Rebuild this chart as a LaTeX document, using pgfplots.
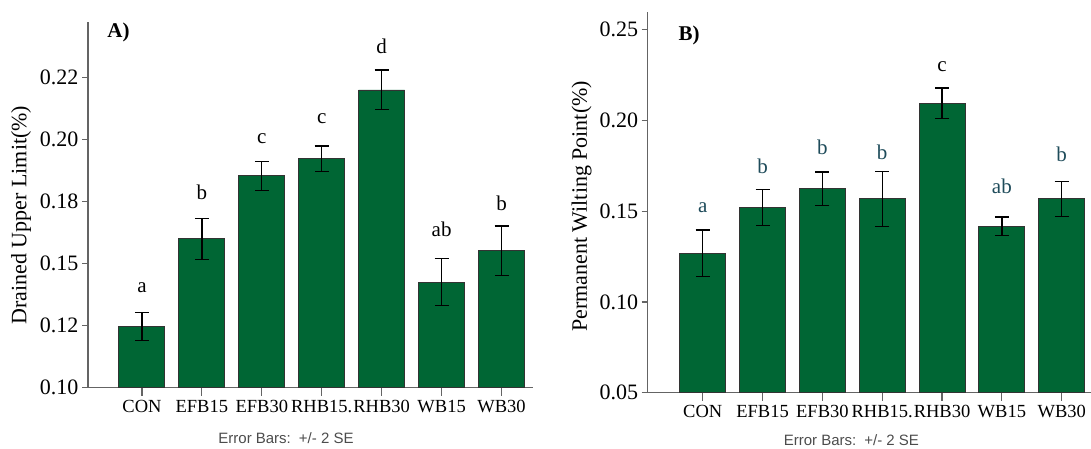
\documentclass[border=0pt]{standalone}
\usepackage{pgfplots}
\pgfplotsset{compat=1.18}
\usepackage{fontspec}
\setmainfont{Liberation Serif}
\newfontfamily\arialfont{Liberation Sans}
\definecolor{barg}{RGB}{0,102,52}
\definecolor{axg}{RGB}{100,100,100}
\definecolor{lettb}{RGB}{30,75,90}
\pgfplotsset{
  mybars/.style={
    scale only axis,
    axis lines=left,
    axis line style={-, axg, line width=1.3pt},
    tick align=outside,
    xtick pos=bottom, ytick pos=left,
    tick style={axg, line width=1.2pt},
    major tick length=6pt,
    xtick style={/pgfplots/major tick length=8pt},
    xtick={0,1,2,3,4,5,6},
    xticklabels={CON,EFB15,EFB30,RHB15.,RHB30,WB15,WB30},
    /pgf/number format/assume math mode=true,
    yticklabel style={font=\fontsize{22}{22}\selectfont},
    xticklabel style={font=\fontsize{18.5}{18.5}\selectfont, yshift=-3pt},
    ybar, bar width=46pt,
    clip=false,
  },
  mybar/.style={
    fill=barg, draw=black!80, line width=0.9pt,
    error bars/.cd, y dir=both, y explicit,
    error bar style={black, line width=1.3pt},
    error mark options={black, mark size=7pt, line width=1.3pt, rotate=90},
  },
}
\begin{document}
\begin{tikzpicture}[x=1pt,y=1pt]
\useasboundingbox (0,0) rectangle (1091,449);
% Panel A
\begin{axis}[mybars,
  at={(88pt,61.3pt)}, anchor=south west,
  width=444.7pt, height=365.7pt,
  xmin=-0.9, xmax=6.52, ymin=0.1, ymax=0.2474,
  ytick={0.1,0.125,0.15,0.175,0.2,0.225},
  yticklabels={0.10,0.12,0.15,0.18,0.20,0.22},
  ylabel={Drained Upper Limit(\%)},
  every axis y label/.style={at={(axis description cs:-0.1507,0.472)}, rotate=90, anchor=center, font=\fontsize{22}{22}\selectfont},
]
\addplot+[mybar] coordinates {
 (0,0.1246) +- (0,0.0057)
 (1,0.1600) +- (0,0.0082)
 (2,0.1854) +- (0,0.0058)
 (3,0.1922) +- (0,0.0052)
 (4,0.2200) +- (0,0.0080)
 (5,0.1426) +- (0,0.0096)
 (6,0.1552) +- (0,0.0100)
};
\begin{scope}[every node/.style={font=\fontsize{21}{21}\selectfont, anchor=base}]
\node at (axis cs:0,0.1383) {a};
\node at (axis cs:1,0.1759) {b};
\node at (axis cs:2,0.1984) {c};
\node at (axis cs:3,0.2065) {c};
\node at (axis cs:4,0.2349) {d};
\node at (axis cs:5,0.1611) {ab};
\node at (axis cs:6,0.1716) {b};
\end{scope}
\end{axis}
% Panel B
\begin{axis}[mybars,
  at={(647.7pt,56.3pt)}, anchor=south west,
  width=443.3pt, height=381pt,
  xmin=-0.92, xmax=6.49, ymin=0.05, ymax=0.26,
  ytick={0.05,0.1,0.15,0.2,0.25},
  yticklabels={0.05,0.10,0.15,0.20,0.25},
  ylabel={Permanent Wilting Point(\%)},
  every axis y label/.style={at={(axis description cs:-0.149,0.489)}, rotate=90, anchor=center, font=\fontsize{22}{22}\selectfont},
]
\addplot+[mybar] coordinates {
 (0,0.1269) +- (0,0.0128)
 (1,0.1520) +- (0,0.0100)
 (2,0.1623) +- (0,0.0093)
 (3,0.1568) +- (0,0.0152)
 (4,0.2096) +- (0,0.0084)
 (5,0.1418) +- (0,0.0050)
 (6,0.1568) +- (0,0.0095)
};
\begin{scope}[every node/.style={font=\fontsize{21}{21}\selectfont, anchor=base, text=lettb}]
\node at (axis cs:0,0.1495) {a};
\node at (axis cs:1,0.1710) {b};
\node at (axis cs:2,0.1811) {b};
\node at (axis cs:3,0.1783) {b};
\node[text=black] at (axis cs:4,0.2270) {c};
\node at (axis cs:5,0.1600) {ab};
\node at (axis cs:6,0.1774) {b};
\end{scope}
\end{axis}
\node[font=\bfseries\fontsize{21}{21}\selectfont] at (118.5pt,416.5pt) {A)};
\node[font=\bfseries\fontsize{21}{21}\selectfont] at (689pt,413.3pt) {B)};
\node[font=\arialfont\fontsize{15}{15}\selectfont, text=black!70] at (286pt,10.7pt) {Error Bars: \,+/- 2 SE};
\node[font=\arialfont\fontsize{15}{15}\selectfont, text=black!70] at (851.4pt,8.5pt) {Error Bars: \,+/- 2 SE};
\end{tikzpicture}
\end{document}
